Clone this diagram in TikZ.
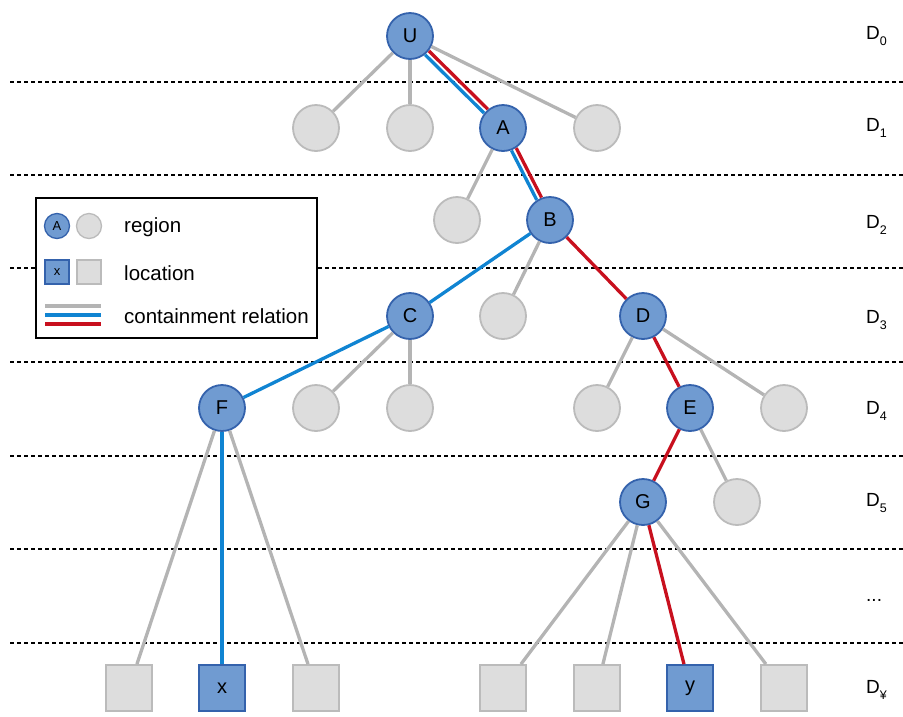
\documentclass[tikz,border=0pt]{standalone}
\usepackage{fontspec}
\setmainfont{Liberation Sans}
\usetikzlibrary{calc}
\definecolor{nodeblue}{RGB}{112,155,209}
\definecolor{nodeblueedge}{RGB}{52,98,172}
\definecolor{nodegrey}{RGB}{221,221,221}
\definecolor{nodegreyedge}{RGB}{187,187,187}
\definecolor{linkgrey}{RGB}{180,180,180}
\definecolor{linkblue}{RGB}{16,132,210}
\definecolor{linkred}{RGB}{200,16,30}
\tikzset{
  lbl/.style={font=\fontsize{20}{20}\selectfont},
  reg/.style={circle, draw=nodeblueedge, fill=nodeblue, line width=1.8pt, minimum size=46pt, inner sep=0pt, lbl},
  regoff/.style={circle, draw=nodegreyedge, fill=nodegrey, line width=1.8pt, minimum size=46pt, inner sep=0pt},
  loc/.style={rectangle, draw=nodeblueedge, fill=nodeblue, line width=1.8pt, minimum size=46pt, inner sep=0pt, lbl},
  locoff/.style={rectangle, draw=nodegreyedge, fill=nodegrey, line width=1.8pt, minimum size=46pt, inner sep=0pt},
  gl/.style={draw=linkgrey, line width=3.3pt},
  bl/.style={draw=linkblue, line width=3.3pt},
  rl/.style={draw=linkred, line width=3.3pt},
  level/.style={dash pattern=on 4pt off 3pt, line width=1.3pt, black},
  dlab/.style={anchor=west, font=\fontsize{19}{19}\selectfont, inner sep=0pt},
  legtxt/.style={anchor=west, font=\fontsize{20.5}{20.5}\selectfont, inner sep=0pt},
}
\newcommand{\dsub}[1]{D\raisebox{-0.55ex}{\fontsize{12.5}{12.5}\selectfont #1}}
\begin{document}
\begin{tikzpicture}[x=1pt, y=-1pt]
\useasboundingbox (0,0) rectangle (903,716);

% level separators
\foreach \yy in {82,175,268,362,456,549,643}
  \draw[level] (10,\yy) -- (903,\yy);

% level labels
\node[dlab] (d0) at (866,36) {\dsub{0}};
\node[dlab] (d1) at (866,128) {\dsub{1}};
\node[dlab] (d2) at (866,225) {\dsub{2}};
\node[dlab] (d3) at (866,320) {\dsub{3}};
\node[dlab] (d4) at (866,411) {\dsub{4}};
\node[dlab] (d5) at (866,503) {\dsub{5}};
\node[dlab] (dd) at (866,600) {...};
\node[dlab] (dinf) at (866,690) {\dsub{¥}};

% regions
\node[reg] (U) at (410,36) {U};
\node[regoff] (r11) at (316,128) {};
\node[regoff] (r12) at (410,128) {};
\node[reg] (A) at (503,128) {A};
\node[regoff] (r14) at (597,128) {};
\node[regoff] (r21) at (457,220) {};
\node[reg] (B) at (550,220) {B};
\node[reg] (C) at (410,316) {C};
\node[regoff] (r32) at (503,316) {};
\node[reg] (D) at (643,316) {D};
\node[reg] (F) at (222,408) {F};
\node[regoff] (r42) at (316,408) {};
\node[regoff] (r43) at (410,408) {};
\node[regoff] (r44) at (597,408) {};
\node[reg] (E) at (690,408) {E};
\node[regoff] (r46) at (784,408) {};
\node[reg] (G) at (643,502) {G};
\node[regoff] (r52) at (737,502) {};

% locations
\node[locoff] (l1) at (129,688) {};
\node[loc] (x) at (222,688) {x};
\node[locoff] (l3) at (316,688) {};
\node[locoff] (l4) at (503,688) {};
\node[locoff] (l5) at (597,688) {};
\node[loc] (y) at (690,688) {y};
\node[locoff] (l7) at (784,688) {};

% containment relations
\draw[gl] (U) -- (r11);
\draw[gl] (U) -- (r12);
\draw[gl] (U) -- (r14);
\draw[bl, transform canvas={shift={(-1.9,1.9)}}] (U) -- (A);
\draw[rl, transform canvas={shift={(1.9,-1.9)}}] (U) -- (A);
\draw[gl] (A) -- (r21);
\draw[bl, transform canvas={shift={(-2.4,1.2)}}] (A) -- (B);
\draw[rl, transform canvas={shift={(2.4,-1.2)}}] (A) -- (B);
\draw[bl] (B) -- (C);
\draw[gl] (B) -- (r32);
\draw[rl] (B) -- (D);
\draw[bl] (C) -- (F);
\draw[gl] (C) -- (r42);
\draw[gl] (C) -- (r43);
\draw[gl] (D) -- (r44);
\draw[rl] (D) -- (E);
\draw[gl] (D) -- (r46);
\draw[rl] (E) -- (G);
\draw[gl] (E) -- (r52);
\draw[gl] (F) -- (l1);
\draw[bl] (F) -- (x);
\draw[gl] (F) -- (l3);
\draw[gl] (G) -- (l4);
\draw[gl] (G) -- (l5);
\draw[rl] (G) -- (y);
\draw[gl] (G) -- (l7);

% legend
\node[draw=black, fill=white, line width=1.6pt, minimum width=281pt, minimum height=140pt, anchor=north west, inner sep=0pt] (leg) at (35,197) {};
\node[reg, minimum size=25pt, line width=1.3pt, font=\fontsize{13}{13}\selectfont] (kA) at (57,226) {A};
\node[regoff, minimum size=25pt, line width=1.3pt] (kr) at (89,226) {};
\node[legtxt] (tr) at (124,227) {region};
\node[loc, minimum size=24pt, line width=1.3pt, font=\fontsize{13}{13}\selectfont] (kx) at (57,272) {x};
\node[locoff, minimum size=24pt, line width=1.3pt] (kl) at (89,272) {};
\node[legtxt] (tl) at (124,273) {location};
\coordinate (g1) at (45,306); \coordinate (g2) at (101,306);
\coordinate (b1) at (45,315); \coordinate (b2) at (101,315);
\coordinate (c1) at (45,324); \coordinate (c2) at (101,324);
\draw[gl] (g1) -- (g2);
\draw[bl] (b1) -- (b2);
\draw[rl] (c1) -- (c2);
\node[legtxt] (tc) at (124,316) {containment relation};
\end{tikzpicture}
\end{document}
